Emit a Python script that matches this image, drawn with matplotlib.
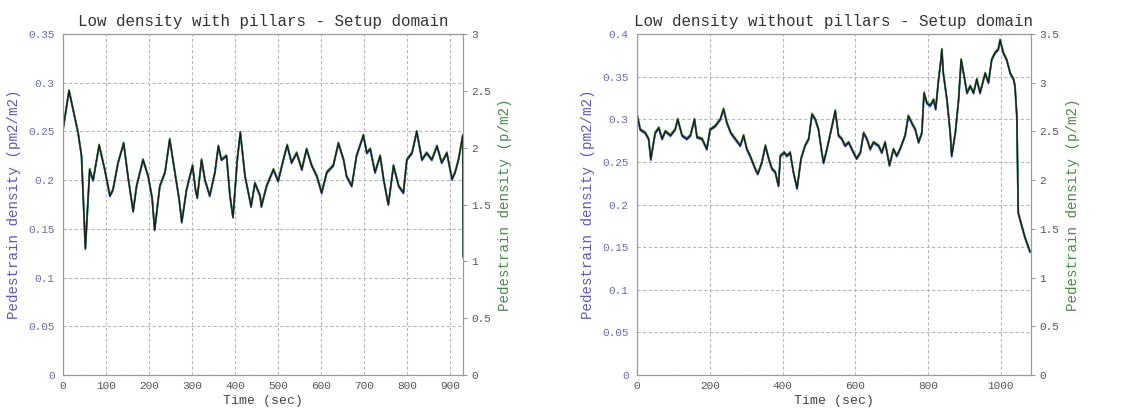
import matplotlib.pyplot as plt
import matplotlib.transforms as mtransforms

# Left panel: low density with pillars (density in pm2/m2)
t_pillars = [0, 14, 35, 43, 52, 62, 66, 70, 84, 97, 109, 116, 128, 141, 151, 163,
             171, 186, 198, 207, 213, 225, 237, 248, 260, 270, 276, 287, 301, 308,
             312, 322, 330, 341, 353, 361, 368, 380, 388, 395, 405, 412, 423, 434,
             437, 446, 458, 461, 473, 489, 500, 512, 521, 531, 543, 555, 566, 578,
             590, 601, 613, 628, 640, 652, 659, 671, 682, 698, 706, 714, 725, 737,
             745, 752, 756, 768, 780, 791, 799, 811, 822, 834, 845, 857, 869, 880,
             892, 904, 911, 919, 929, 930]
d_pillars = [0.252, 0.292, 0.249, 0.225, 0.130, 0.211, 0.205, 0.200, 0.236, 0.211,
             0.184, 0.190, 0.218, 0.238, 0.204, 0.168, 0.194, 0.221, 0.204, 0.182,
             0.149, 0.194, 0.208, 0.242, 0.208, 0.180, 0.157, 0.190, 0.215, 0.190,
             0.182, 0.221, 0.200, 0.184, 0.208, 0.235, 0.221, 0.225, 0.184, 0.162,
             0.221, 0.249, 0.204, 0.180, 0.173, 0.197, 0.184, 0.173, 0.194, 0.211,
             0.199, 0.221, 0.236, 0.218, 0.228, 0.211, 0.232, 0.215, 0.204, 0.187,
             0.208, 0.215, 0.238, 0.221, 0.204, 0.194, 0.225, 0.246, 0.228, 0.232,
             0.208, 0.225, 0.201, 0.184, 0.175, 0.215, 0.194, 0.187, 0.221, 0.228,
             0.250, 0.221, 0.228, 0.221, 0.235, 0.218, 0.228, 0.201, 0.208, 0.221,
             0.246, 0.122]

# Right panel: low density without pillars
t_open = [0, 9, 23, 32, 38, 50, 60, 69, 78, 92, 105, 112, 124, 137, 147, 158, 165,
          179, 192, 201, 215, 229, 238, 247, 258, 270, 284, 293, 302, 311, 325, 332,
          343, 353, 362, 371, 380, 389, 394, 405, 412, 421, 430, 440, 451, 462, 472,
          481, 490, 499, 508, 513, 522, 536, 545, 554, 563, 572, 582, 595, 604, 614,
          623, 632, 641, 650, 664, 673, 682, 694, 705, 714, 723, 737, 746, 755, 765,
          774, 783, 789, 797, 806, 815, 821, 829, 835, 838, 842, 852, 861, 865, 875,
          884, 891, 899, 907, 916, 925, 934, 943, 957, 966, 975, 984, 993, 998, 1007,
          1016, 1026, 1035, 1039, 1044, 1048, 1057, 1066, 1080]
d_open = [0.306, 0.288, 0.284, 0.277, 0.253, 0.284, 0.290, 0.277, 0.286, 0.281,
          0.288, 0.300, 0.281, 0.277, 0.281, 0.300, 0.279, 0.277, 0.265, 0.288,
          0.292, 0.300, 0.312, 0.296, 0.284, 0.277, 0.269, 0.281, 0.265, 0.257,
          0.242, 0.236, 0.249, 0.269, 0.254, 0.242, 0.238, 0.222, 0.257, 0.261,
          0.257, 0.261, 0.238, 0.219, 0.254, 0.269, 0.277, 0.306, 0.300, 0.288,
          0.261, 0.249, 0.265, 0.292, 0.310, 0.281, 0.277, 0.269, 0.273, 0.261,
          0.254, 0.261, 0.284, 0.277, 0.265, 0.273, 0.269, 0.261, 0.273, 0.246,
          0.265, 0.257, 0.265, 0.281, 0.304, 0.296, 0.288, 0.273, 0.284, 0.331,
          0.319, 0.316, 0.323, 0.312, 0.347, 0.368, 0.382, 0.354, 0.323, 0.284,
          0.257, 0.284, 0.323, 0.370, 0.351, 0.331, 0.339, 0.331, 0.347, 0.331,
          0.354, 0.343, 0.370, 0.378, 0.382, 0.393, 0.378, 0.370, 0.354, 0.347,
          0.339, 0.304, 0.190, 0.176, 0.162, 0.145]

panels = [
    dict(t=t_pillars, d=d_pillars, title='Low density with pillars - Setup domain',
         xmax=930, xticks=range(0, 901, 100), ymax=0.35, y2max=3.0,
         y2ticks=[0, 0.5, 1, 1.5, 2, 2.5, 3], rect=[0.0558, 0.0986, 0.3545, 0.8196]),
    dict(t=t_open, d=d_open, title='Low density without pillars - Setup domain',
         xmax=1083, xticks=range(0, 1001, 200), ymax=0.4, y2max=3.5,
         y2ticks=[0, 0.5, 1, 1.5, 2, 2.5, 3, 3.5], rect=[0.5642, 0.0986, 0.3490, 0.8196]),
]

font = 'Liberation Mono'
fig = plt.figure(figsize=(11.29, 4.16), dpi=100)

for p in panels:
    ax = fig.add_axes(p['rect'])
    ax2 = ax.twinx()

    # blue and green traces sit just under/over the dark core line
    down = mtransforms.offset_copy(ax.transData, fig=fig, x=0, y=-0.8, units='dots')
    up = mtransforms.offset_copy(ax.transData, fig=fig, x=0, y=0.8, units='dots')
    ax.plot(p['t'], p['d'], color='#4040d0', lw=1.3, transform=down)
    ax.plot(p['t'], p['d'], color='#3a9a3a', lw=1.3, transform=up)
    ax.plot(p['t'], p['d'], color='#1a1a1a', lw=0.9)

    ax.set_xlim(0, p['xmax'])
    ax.set_ylim(0, p['ymax'])
    ax.set_xticks(list(p['xticks']))
    ax.set_yticks([round(v * 0.05, 2) for v in range(int(round(p['ymax'] / 0.05)) + 1)])
    ax.set_yticklabels(['0' if v == 0 else f'{v * 0.05:.2f}'.rstrip('0')
                        for v in range(int(round(p['ymax'] / 0.05)) + 1)])
    ax2.set_ylim(0, p['y2max'])
    ax2.set_yticks(p['y2ticks'])
    ax2.set_yticklabels(['0' if v == 0 else f'{v:g}' for v in p['y2ticks']])

    ax.grid(True, color='#b8b8b8', linestyle=(0, (3, 2)), linewidth=0.8)
    for a in (ax, ax2):
        for s in a.spines.values():
            s.set_color('#9a9a9a')
    ax.tick_params(axis='x', length=0, pad=4, labelsize=8, labelcolor='#555555')
    ax.tick_params(axis='y', length=0, pad=6, labelsize=8, labelcolor='#6a6ab8')
    ax2.tick_params(axis='y', length=3, color='#9a9a9a', pad=3, labelsize=8,
                    labelcolor='#555555')
    for lab in ax.get_xticklabels() + ax.get_yticklabels() + ax2.get_yticklabels():
        lab.set_fontfamily(font)

    ax.set_title(p['title'], fontsize=11.4, fontfamily=font, color='#333333', pad=6)
    ax.set_xlabel('Time (sec)', fontsize=9.5, fontfamily=font, color='#444444', labelpad=3)
    ax.set_ylabel('Pedestrain density (pm2/m2)', fontsize=10.2, fontfamily=font,
                  color='#5a5ab8', labelpad=5)
    ax2.set_ylabel('Pedestrain density (p/m2)', fontsize=10.2, fontfamily=font,
                   color='#4a8a4a', labelpad=5)

fig.savefig('out.png', dpi=100)
